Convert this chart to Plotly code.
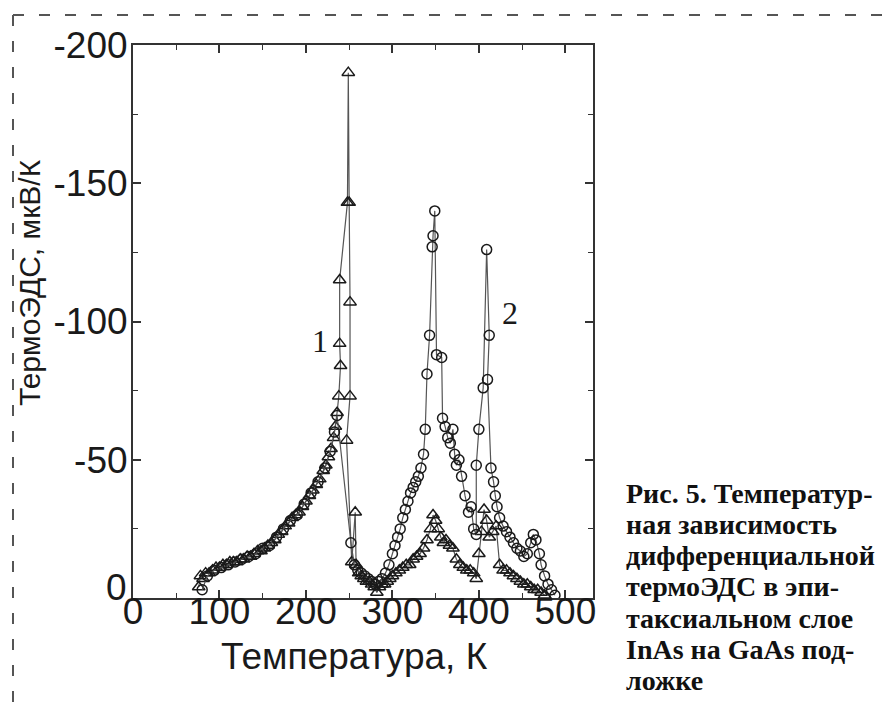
import plotly.graph_objects as go

# Sample 1 (triangles): temperature, K and thermo-EMF, uV/K
temp_1 = [76, 78, 81, 84, 88, 92, 96, 100, 104, 108, 112, 116, 120, 124, 128,
          132, 136, 140, 144, 148, 152, 156, 160, 164, 168, 172, 176, 180, 184,
          188, 192, 196, 200, 204, 208, 212, 216, 220, 223, 226, 229, 232, 234,
          236, 238, 240, 239, 239, 248, 249, 250, 251, 251, 247, 253, 257, 258,
          261, 264, 267, 270, 273, 276, 279, 282, 285, 288, 291, 294, 297, 300,
          304, 308, 312, 316, 320, 324, 328, 332, 336, 340, 344, 347, 350, 353,
          356, 359, 362, 366, 370, 374, 378, 382, 386, 390, 394, 397, 400, 403,
          406, 409, 412, 416, 420, 424, 428, 432, 436, 440, 444, 448, 452, 456,
          460, 464, 468, 472, 476]
emf_1 = [-4, -8, -7, -9, -9, -10, -11, -11, -12, -12, -13, -13, -13, -14, -14,
         -15, -15, -16, -17, -17, -18, -19, -20, -21, -23, -24, -26, -27, -29,
         -30, -31, -33, -35, -37, -39, -41, -43, -46, -48, -51, -54, -58, -62,
         -67, -73, -84, -92, -115, -143, -190, -143, -107, -73, -57, -13, -31, -12,
         -9, -8, -7, -6, -6, -5, -4, -2, -4, -5, -5, -6, -7, -8,
         -9, -10, -11, -12, -12, -14, -15, -16, -18, -21, -25, -30, -28, -25,
         -22, -20, -21, -19, -18, -14, -12, -11, -10, -10, -9, -7, -16, -24,
         -32, -28, -22, -24, -26, -12, -10, -10, -9, -8, -7, -6, -5, -5,
         -4, -3, -3, -2, -1]

# Sample 2 (circles)
temp_2 = [80, 86, 94, 102, 110, 118, 126, 134, 142, 150, 158, 166, 174, 182,
          190, 198, 206, 214, 222, 228, 233, 236, 252, 256, 260, 264, 268, 272,
          276, 280, 284, 288, 292, 296, 300, 303, 306, 309, 312, 315, 318, 321,
          324, 327, 330, 333, 336, 338, 340, 343, 346, 347, 349, 351, 357, 358,
          361, 364, 367, 370, 372, 374, 377, 380, 384, 388, 391, 394, 397, 397,
          400, 405, 409, 412, 410, 414, 417, 419, 421, 424, 428, 432, 436, 440,
          444, 448, 452, 456, 460, 463, 466, 470, 472, 476, 480, 484, 488]
emf_2 = [-3, -8, -10, -11, -12, -13, -14, -15, -16, -18, -19, -22, -25, -28,
         -30, -34, -38, -42, -47, -53, -60, -66, -20, -12, -10, -9, -8, -7,
         -6, -5, -6, -7, -9, -12, -16, -19, -22, -25, -29, -32, -35, -38,
         -40, -42, -44, -47, -52, -61, -81, -95, -127, -131, -140, -88, -87, -65,
         -62, -58, -56, -61, -52, -48, -50, -44, -37, -31, -33, -25, -23, -48,
         -61, -76, -126, -95, -79, -47, -42, -37, -33, -29, -26, -24, -22, -20,
         -18, -17, -15, -16, -20, -23, -21, -16, -12, -8, -5, -3, -1]

x_ticks = [0, 100, 200, 300, 400, 500]
y_ticks = [0, -50, -100, -150, -200]
# the zero label of the y axis is drawn separately, lifted off the corner
y_tick_text = ["", "-50", "-100", "-150", "-200"]
y_zero_label = "0"

x_title = "Температура, К"
y_title = "ТермоЭДС, мкВ/К"

caption_lines = [
    "Рис. 5. Температур-",
    "ная зависимость",
    "дифференциальной",
    "термоЭДС в эпи-",
    "таксиальном слое",
    "InAs на GaAs под-",
    "ложке",
]

W, H = 885, 710
L, R, T, B = 133, 593, 45, 598
AX_FONT = "Liberation Sans, Arial, sans-serif"
INK = "#1a1a1a"


def px(xp):
    return (xp - L) / (R - L)


def py(yp):
    return (B - yp) / (B - T)


fig = go.Figure()
fig.add_trace(go.Scatter(
    x=temp_1, y=emf_1, mode="lines+markers",
    line=dict(color="#555555", width=1.2),
    marker=dict(symbol="triangle-up-open", size=11,
                line=dict(color=INK, width=1.5), color=INK),
    showlegend=False,
))
fig.add_trace(go.Scatter(
    x=temp_2, y=emf_2, mode="lines+markers",
    line=dict(color="#555555", width=1.2),
    marker=dict(symbol="circle-open", size=10,
                line=dict(color=INK, width=1.5), color=INK),
    showlegend=False,
))

axis_common = dict(
    showline=True, linecolor="#333333", linewidth=2, mirror="allticks",
    ticks="inside", ticklen=8, tickwidth=1.5, tickcolor="#333333",
    showgrid=False, zeroline=False,
    tickfont=dict(family=AX_FONT, size=37, color=INK),
)

fig.update_xaxes(
    range=[0, 532], tickvals=x_ticks, ticklabelstandoff=-20,
    minor=dict(ticks="inside", dtick=50, ticklen=5, tickwidth=1.2, tickcolor="#333333"),
    **axis_common,
)
fig.update_yaxes(
    range=[0, -200], tickvals=y_ticks, ticktext=y_tick_text, ticklabelstandoff=-4,
    minor=dict(ticks="inside", dtick=25, ticklen=5, tickwidth=1.2, tickcolor="#333333"),
    **axis_common,
)

fig.add_annotation(xref="paper", yref="paper", x=px(129), y=py(587),
                   xanchor="right", yanchor="middle", text=y_zero_label,
                   showarrow=False, font=dict(family=AX_FONT, size=37, color=INK))

# axis titles
fig.add_annotation(xref="paper", yref="paper", x=px(354), y=py(656),
                   xanchor="center", yanchor="middle", text=x_title, showarrow=False,
                   font=dict(family=AX_FONT, size=37, color=INK))
fig.add_annotation(xref="paper", yref="paper", x=px(29), y=py(283),
                   xanchor="center", yanchor="middle", text=y_title, showarrow=False,
                   textangle=-90, font=dict(family=AX_FONT, size=30, color=INK))

# curve labels
fig.add_annotation(x=216, y=-93, text="1", showarrow=False,
                   font=dict(family="Liberation Serif", size=32, color=INK))
fig.add_annotation(x=436, y=-103, text="2", showarrow=False,
                   font=dict(family="Liberation Serif", size=32, color=INK))

# figure caption, one annotation per line for tight leading
for i, line in enumerate(caption_lines):
    fig.add_annotation(
        xref="paper", yref="paper", x=px(624), y=py(493 + 31.3 * i),
        xanchor="left", yanchor="middle", text=line, showarrow=False,
        font=dict(family="Liberation Serif", size=28, color="#111111",
                  weight="bold"),
    )

# dashed frame along the top and left edges of the page
dash_style = dict(color="#555555", width=2, dash="11px,15px")
fig.add_shape(type="line", xref="paper", yref="paper",
              x0=px(13), y0=py(15), x1=px(885), y1=py(15), line=dash_style)
fig.add_shape(type="line", xref="paper", yref="paper",
              x0=px(13), y0=py(15), x1=px(13), y1=py(710), line=dash_style)

fig.update_layout(
    width=W, height=H,
    margin=dict(l=L, r=W - R, t=T, b=H - B),
    paper_bgcolor="white", plot_bgcolor="white",
)

fig.write_html("out.html")
